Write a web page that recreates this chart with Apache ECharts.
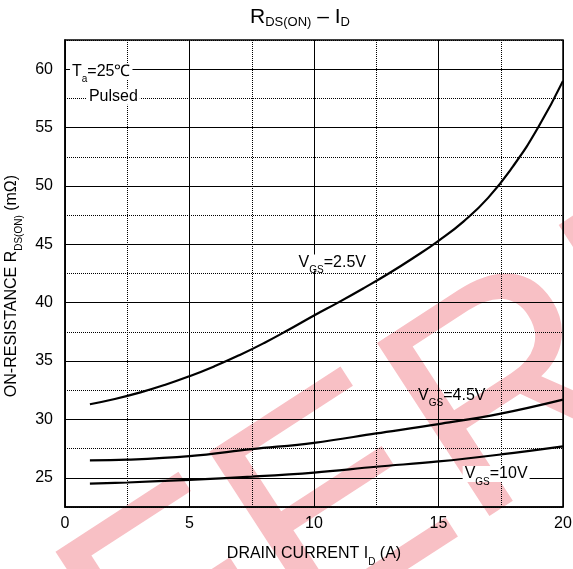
<!DOCTYPE html>
<html>
<head>
<meta charset="utf-8">
<script src="https://cdn.jsdelivr.net/npm/echarts@6/dist/echarts.min.js"></script>
<style>
html, body { margin: 0; padding: 0; background: #fff; }
#chart { width: 573px; height: 569px; }
</style>
</head>
<body>
<div id="chart"></div>
<script>
var FONT = '"Liberation Sans", Arial, sans-serif';

// drain current I_D (A) and on-resistance (mOhm)
var id25 = [1, 2, 3, 4, 5, 6, 7, 8, 9, 10, 11, 12, 13, 14, 15, 16, 17, 18, 19, 20];
var r25 = [31.3, 31.75, 32.3, 32.95, 33.7, 34.55, 35.5, 36.55, 37.7, 38.9, 40.05, 41.25, 42.5, 43.85, 45.3, 46.95, 49.0, 51.7, 55.0, 59.0];
var id45 = [1, 2.5, 5, 7.5, 10, 12.5, 15, 17.5, 20];
var r45 = [26.5, 26.55, 26.85, 27.45, 28.0, 28.8, 29.6, 30.5, 31.7];
var id10 = [1, 2.5, 5, 7.5, 10, 12.5, 15, 17.5, 20];
var r10 = [24.5, 24.6, 24.83, 25.1, 25.45, 25.95, 26.4, 27.0, 27.7];

var xRange = [0, 20];
var yRange = [22.5, 62.5];
var yLabels = [25, 30, 35, 40, 45, 50, 55, 60];

var curveNames = ['V{s|GS}=2.5V', 'V{s|GS}=4.5V', 'V{s|GS}=10V'];
var curveLabelAt = [[9.3, 43.44], [14.1, 32.03], [15.97, 25.32]];
var noteTexts = ['T{s|a}=25℃', 'Pulsed'];
var noteAt = [[0.2, 59.8], [0.88, 57.64]];

function pairs(xs, ys) {
	var out = [];
	for (var i = 0; i < xs.length; i++) {
		out.push([xs[i], ys[i]]);
	}
	return out;
}

// subscripts for axis names
var subRich = {
	s: { fontSize: 10, fontFamily: FONT, color: '#000', padding: [16, 0, 0, 0] }
};
// subscripts for in-plot notes, kept to one 16px line so the white box stays tight
var noteRich = {
	s: { fontSize: 10, fontFamily: FONT, color: '#000', lineHeight: 16, padding: [16, 0, 0, 0] }
};

function markLabels(texts, coords, plain) {
	var data = [];
	for (var i = 0; i < texts.length; i++) {
		var lbl = { formatter: texts[i] };
		if (plain && plain[i]) {
			lbl.backgroundColor = 'transparent';
		}
		data.push({ coord: coords[i], label: lbl });
	}
	return {
		symbol: 'circle',
		symbolSize: 0,
		silent: true,
		label: {
			show: true,
			position: 'right',
			distance: 0,
			color: '#000',
			fontSize: 16,
			lineHeight: 16,
			fontFamily: FONT,
			backgroundColor: '#fff',
			padding: [0, 2],
			rich: noteRich
		},
		data: data
	};
}

var lineStyle = { color: '#000', width: 2.2 };

var option = {
	animation: false,
	backgroundColor: '#fff',
	textStyle: { fontFamily: FONT },
	title: {
		text: 'R{s|DS(ON)} – I{s|D}',
		left: 250,
		top: 5,
		padding: 0,
		textStyle: {
			fontSize: 21,
			fontWeight: 'normal',
			color: '#000',
			fontFamily: FONT,
			rich: {
				s: { fontSize: 13, fontFamily: FONT, color: '#000', padding: [11, 0, 0, 0] }
			}
		}
	},
	graphic: [{
		type: 'text',
		x: -329,
		y: 770,
		rotation: 0.576,
		z: -10,
		silent: true,
		style: {
			text: 'REFERENCE',
			fontSize: 300,
			fontFamily: FONT,
			fill: '#f8c0c5',
			align: 'left',
			verticalAlign: 'top'
		}
	}],
	grid: {
		left: 65,
		right: 10,
		top: 40,
		bottom: 62,
		outerBoundsMode: 'none',
		containLabel: false,
		show: true,
		borderColor: '#000',
		borderWidth: 1.5,
		backgroundColor: 'transparent'
	},
	xAxis: {
		type: 'value',
		min: xRange[0],
		max: xRange[1],
		interval: 5,
		name: 'DRAIN CURRENT I{s|D} (A)',
		nameLocation: 'middle',
		nameGap: 34,
		nameTextStyle: { fontSize: 16, color: '#000', fontFamily: FONT, rich: subRich },
		axisLine: { show: true, lineStyle: { color: '#000', width: 1.5 } },
		axisTick: { show: false },
		axisLabel: { fontSize: 16, color: '#000', fontFamily: FONT, margin: 9 },
		splitLine: { show: true, lineStyle: { color: '#000', width: 1, type: 'solid' } },
		minorTick: { show: false, splitNumber: 2 },
		minorSplitLine: { show: true, lineStyle: { color: '#000', width: 1, type: 'dotted' } }
	},
	yAxis: [{
		type: 'value',
		min: yRange[0],
		max: yRange[1],
		interval: 2.5,
		name: 'ON-RESISTANCE R{s|DS(ON)} (mΩ)',
		nameLocation: 'middle',
		nameGap: 38,
		nameTextStyle: { fontSize: 16, color: '#000', fontFamily: FONT, padding: [0, 25, 0, 0], rich: subRich },
		axisLine: { show: true, lineStyle: { color: '#000', width: 1.5 } },
		axisTick: { show: false },
		axisLabel: {
			fontSize: 16,
			color: '#000',
			fontFamily: FONT,
			margin: 12,
			formatter: function (v) {
				return yLabels.indexOf(v) >= 0 ? String(v) : '';
			}
		},
		splitLine: { show: true, lineStyle: { color: '#000', width: 1, type: 'dotted' } }
	}, {
		type: 'value',
		min: yRange[0],
		max: yRange[1],
		interval: 2.5,
		position: 'left',
		axisLine: { show: false },
		axisTick: { show: false },
		axisLabel: { show: false },
		splitLine: { show: true, lineStyle: { color: ['rgba(0,0,0,0)', '#000'], width: 1, type: 'solid' } }
	}],
	series: [{
		name: '2.5V',
		type: 'line',
		smooth: 0.5,
		showSymbol: false,
		lineStyle: lineStyle,
		data: pairs(id25, r25),
		markPoint: markLabels(curveNames, curveLabelAt, [false, true, false])
	}, {
		name: '4.5V',
		type: 'line',
		smooth: 0.4,
		showSymbol: false,
		lineStyle: lineStyle,
		data: pairs(id45, r45),
		markPoint: markLabels(noteTexts, noteAt)
	}, {
		name: '10V',
		type: 'line',
		smooth: 0.4,
		showSymbol: false,
		lineStyle: lineStyle,
		data: pairs(id10, r10)
	}]
};

var chart = echarts.init(document.getElementById('chart'));
chart.setOption(option);
</script>
</body>
</html>
